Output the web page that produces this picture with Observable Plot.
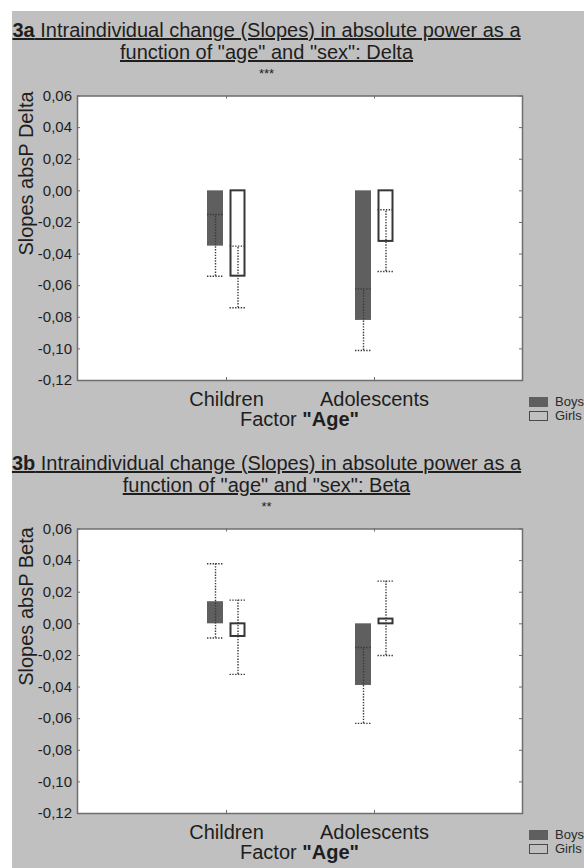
<!DOCTYPE html>
<html><head><meta charset="utf-8">
<script src="https://cdn.jsdelivr.net/npm/d3@7"></script>
<script src="https://cdn.jsdelivr.net/npm/@observablehq/plot@0.6"></script>
<style>
html,body{margin:0;padding:0;background:#fff;}
body{width:584px;height:868px;position:relative;overflow:hidden;font-family:"Liberation Sans",Arial,Helvetica,sans-serif;color:#1e1e1e;}
#bg{position:absolute;left:12px;top:11px;width:572px;height:857px;background:#c0c0c0;}
.panel{position:absolute;left:0;width:584px;height:433px;}
.title{position:absolute;left:0;top:19px;width:533px;text-align:center;font-size:20px;line-height:22px;}
.stars{position:absolute;left:0;top:67px;width:533px;text-align:center;font-size:13px;line-height:13px;}
.chart{position:absolute;left:0;top:85px;}
.xlab{position:absolute;left:77px;width:445px;top:408px;text-align:center;font-size:20px;line-height:22px;}
.legend{position:absolute;left:529px;top:395px;font-size:13px;line-height:14px;color:#2a2a2a;}
.item{display:flex;align-items:center;height:14px;}
.sw{width:19px;height:10px;box-sizing:border-box;margin-right:7px;}
</style>
</head>
<body>
<div id="bg"></div>
<div class="panel" id="pa" style="top:0px">
  <div class="title"><u><b>3a</b> Intraindividual change (Slopes) in absolute power as a</u><br><u>function of "age" and "sex": Delta</u></div>
  <div class="stars">***</div>
  <div class="chart" id="ca"></div>
  <div class="xlab">Factor <b>"Age"</b></div>
  <div class="legend"><div class="item"><div class="sw" style="background:#5f5f5f"></div>Boys</div><div class="item"><div class="sw" style="border:1.5px solid #4a4a4a"></div>Girls</div></div>
</div>
<div class="panel" id="pb" style="top:433px">
  <div class="title"><u><b>3b</b> Intraindividual change (Slopes) in absolute power as a</u><br><u>function of "age" and "sex": Beta</u></div>
  <div class="stars">**</div>
  <div class="chart" id="cb"></div>
  <div class="xlab">Factor <b>"Age"</b></div>
  <div class="legend"><div class="item"><div class="sw" style="background:#5f5f5f"></div>Boys</div><div class="item"><div class="sw" style="border:1.5px solid #4a4a4a"></div>Girls</div></div>
</div>
<script>
const categories = ["Children", "Adolescents"];
const yTicks = [0.06, 0.04, 0.02, 0.00, -0.02, -0.04, -0.06, -0.08, -0.10, -0.12];

// 3a Delta
const boysDeltaMean = [-0.035, -0.082];
const boysDeltaLow  = [-0.054, -0.101];
const boysDeltaHigh = [-0.015, -0.062];
const girlsDeltaMean = [-0.054, -0.032];
const girlsDeltaLow  = [-0.074, -0.051];
const girlsDeltaHigh = [-0.035, -0.012];

// 3b Beta
const boysBetaMean = [0.014, -0.039];
const boysBetaLow  = [-0.009, -0.063];
const boysBetaHigh = [0.038, -0.015];
const girlsBetaMean = [-0.008, 0.003];
const girlsBetaLow  = [-0.032, -0.020];
const girlsBetaHigh = [0.015, 0.027];

const BOYS = "#5f5f5f";
const FRAME = "#6e6e6e";
const ERR = "#3a3a3a";
const fmt = d => d.toFixed(2).replace(".", ",");

function rows(mean, lo, hi) {
  return categories.map((c, i) => ({age: c, mean: mean[i], lo: lo[i], hi: hi[i]}));
}

function makePanel(target, bm, bl, bh, gm, gl, gh, ylabel) {
  const boys = rows(bm, bl, bh);
  const girls = rows(gm, gl, gh);
  const W = 584, H = 330, mL = 77, mR = 62, mT = 10.5, mB = 35;
  const iw = W - mL - mR, ih = H - mT - mB;
  const errMarks = (data, dx) => [
    Plot.ruleX(data, {x: "age", y1: "lo", y2: "hi", dx, stroke: ERR, strokeWidth: 1.4, strokeDasharray: "1.4,1.4"}),
    Plot.tickY(data, {x: "age", y: "lo", dx, insetLeft: 29, insetRight: 29, stroke: ERR, strokeWidth: 1.4, strokeDasharray: "1.4,1.4"}),
    Plot.tickY(data, {x: "age", y: "hi", dx, insetLeft: 29, insetRight: 29, stroke: ERR, strokeWidth: 1.4, strokeDasharray: "1.4,1.4"})
  ];
  const plot = Plot.plot({
    width: W, height: H, marginLeft: mL, marginRight: mR, marginTop: mT, marginBottom: mB,
    style: {background: "transparent", fontFamily: "'Liberation Sans', Arial, sans-serif", color: "#1e1e1e", overflow: "visible"},
    x: {type: "band", domain: categories, paddingInner: 0.5, paddingOuter: 0.75, align: 0.5},
    y: {domain: [-0.12, 0.06]},
    marks: [
      Plot.frame({fill: "white"}),
      Plot.barY(boys, {x: "age", y: "mean", fill: BOYS, dx: -11, insetLeft: 29, insetRight: 29}),
      Plot.barY(girls, {x: "age", y: "mean", fill: "white", stroke: "#363636", strokeWidth: 2, dx: 11.5, insetLeft: 30, insetRight: 30}),
      ...errMarks(boys, -11),
      ...errMarks(girls, 11.5),
      Plot.ruleY(yTicks, {y: d => d, insetRight: iw - 3, stroke: FRAME}),
      Plot.ruleY(yTicks, {y: d => d, insetLeft: iw - 3, stroke: FRAME}),
      Plot.ruleX(categories, {x: d => d, insetBottom: ih - 3, stroke: FRAME}),
      Plot.ruleX(categories, {x: d => d, insetTop: ih - 3, stroke: FRAME}),
      Plot.frame({stroke: FRAME, strokeWidth: 1.5}),
      Plot.axisY(yTicks, {tickSize: 0, tickPadding: 5.5, tickFormat: fmt, fontSize: 15, label: null}),
      Plot.axisX({tickSize: 0, tickPadding: 11, fontSize: 20, label: null}),
      Plot.text([ylabel], {frameAnchor: "top-left", text: d => d, rotate: -90, textAnchor: "middle", dx: -59, dy: 77.5, fontSize: 20})
    ]
  });
  document.getElementById(target).appendChild(plot);
}

makePanel("ca", boysDeltaMean, boysDeltaLow, boysDeltaHigh, girlsDeltaMean, girlsDeltaLow, girlsDeltaHigh, "Slopes absP Delta");
makePanel("cb", boysBetaMean, boysBetaLow, boysBetaHigh, girlsBetaMean, girlsBetaLow, girlsBetaHigh, "Slopes absP Beta");
</script>
</body></html>
